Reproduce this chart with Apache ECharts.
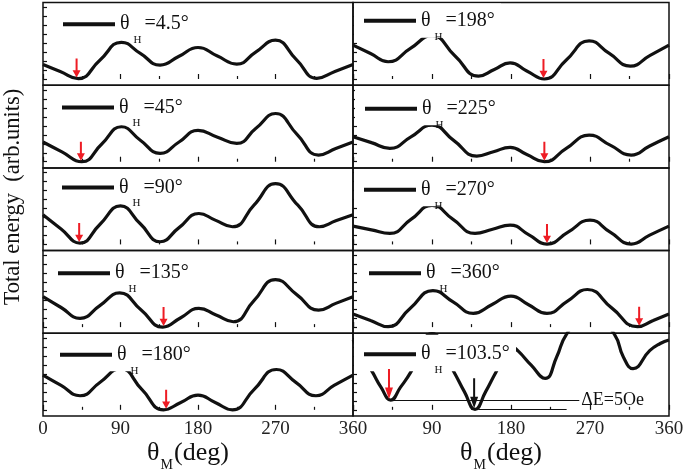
<!DOCTYPE html>
<html><head><meta charset="utf-8">
<script src="https://cdn.jsdelivr.net/npm/echarts@6/dist/echarts.min.js"></script>
<style>html,body{margin:0;padding:0;background:#fff}#c{width:685px;height:469px}</style>
</head><body><div id="c"></div>
<script>
// ---------------- DATA ----------------
const thetaH = ['4.5','45','90','135','180','198','225','270','360','103.5'];
const xTicks = [0, 90, 180, 270, 360];
const yTicks = [0, 1, 2, 3, 4, 5, 6, 7, 8];

const energy_4_5 = [[0,1.62],[20,0.84],[41,0.05],[66,2.1],[91,4.1],[113,2.86],[136,1.56],[158,2.54],[180,3.52],[202,2.6],[225,1.67],[247,3.0],[270,4.33],[294,2.2],[318,0.08],[339,0.85],[360,1.62]];
const energy_45 = [[0,2.2],[22,1.1],[45,0],[68,1.95],[91,3.9],[113,2.4],[136,0.93],[158,2.2],[180,3.5],[202,2.77],[225,2.04],[247,3.7],[270,5.38],[295,3.06],[320,0.74],[340,1.47],[360,2.2]];
const energy_90 = [[0,3.3],[21,1.72],[43,0.15],[66,2.22],[90,4.3],[113,2.3],[136,0.3],[158,1.87],[181,3.45],[200,2.71],[220,1.97],[245,4.38],[270,6.79],[296,4.38],[321,1.97],[340,2.63],[360,3.3]];
const energy_135 = [[0,3.4],[21,2.19],[43,0.98],[66,2.4],[89,3.82],[114,1.91],[139,0],[160,1.05],[181,2.09],[201,1.35],[221,0.6],[245,2.96],[270,5.31],[295,3.6],[320,1.9],[340,2.65],[360,3.4]];
const energy_180 = [[0,3.87],[21,2.72],[43,1.57],[66,3.05],[90,4.6],[115,2.25],[140,0],[160,0.82],[180,1.64],[200,0.82],[220,0],[245,2.25],[271,4.5],[294,3.03],[317,1.57],[338,2.72],[360,3.87]];
const energy_198 = [[0,3.78],[20,2.85],[40,1.93],[65,3.38],[90,4.85],[116,2.6],[143,0.33],[161,1.07],[179,1.81],[198,0.9],[218,0],[243,2.13],[269,4.26],[292,2.85],[316,1.44],[338,2.61],[360,3.78]];
const energy_225 = [[0,2.78],[21,2.13],[42,1.49],[66,2.78],[90,4.08],[115,2.35],[141,0.63],[160,1.11],[179,1.6],[198,0.8],[218,0],[243,1.48],[269,2.97],[293,1.85],[317,0.74],[338,1.76],[360,2.78]];
const energy_270 = [[0,2.04],[21,1.63],[42,1.23],[66,2.79],[90,4.35],[114,2.79],[139,1.23],[159,1.7],[179,2.16],[200,1.1],[221,0.04],[245,1.37],[270,2.71],[293,1.37],[317,0.04],[338,1.04],[360,2.04]];
const energy_360 = [[0,1.46],[20,0.75],[40,0.05],[65,2.08],[91,4.08],[114,2.82],[137,1.53],[158,2.5],[180,3.46],[200,2.5],[221,1.53],[244,2.87],[267,4.2],[295,2.12],[324,0.05],[342,0.75],[360,1.46]];
const energy_103_5 = [[0,7.8],[22,4.23],[32,2.5],[43,1.09],[54,2.5],[66,4.23],[90,8.5],[115,4.23],[127,2.0],[139,0.05],[151,2.0],[163,4.23],[180,7.1],[188,6.57],[203,4.98],[219,3.5],[232,5.9],[243,8.4],[270,11.5],[298,8.4],[308,5.9],[319,4.6],[338,6.6],[350,7.4],[360,7.8]];

// arrows marking the energy minimum (deg, value)
const arrowDeg = [39, 44, 42, 140, 143, 217, 218, 221, 326, 41];
const arrowVal = [0.05, 0, 0.15, 0, 0, 0, 0, 0.04, 0.05, 1.09];
const blackArrow = [138, 0.05];
// Delta E reference lines
const dELine1 = [[43.6, 1.09], [257.8, 1.09]];
const dELine2 = [[142.7, 0.05], [243.4, 0.05]];
const dELabel = 'ΔE=5Oe';

const curves = [energy_4_5, energy_45, energy_90, energy_135, energy_180,
                energy_198, energy_225, energy_270, energy_360, energy_103_5];

// ---------------- LAYOUT / STYLE ----------------
const SERIF = '"Liberation Serif","DejaVu Serif",serif';
const INK = '#111';
const RED = '#ee1c24';
const TOP = 2.5, ROWH = 82.7;
const COLX = [[43, 310], [353, 316]];
const YMIN = -0.69, YMAX = 8.54;
const iconLeft = [63, 62, 62, 58, 60, 364, 365, 364, 369, 364];
const iconCY = [22.7, 106, 186, 271.7, 353.3, 19.3, 107.3, 188.3, 271.7, 352.7];
const boxRight = [190, 188, 181, 192, 192, 501, 502, 500, 507, 516];
const boxBelow = [16.5, 18, 17.5, 18, 18, 18.5, 18, 18, 17, 18.5];
const ARROW = 'path://M3,0L5,0L5,11L8,11L4,18L0,11L3,11Z';
const LEG_OFF = 8.5;  // legend top -> icon centre

const grids = [], xAxes = [], yAxes = [], series = [], legends = [], graphics = [];
for (let i = 0; i < 10; i++) {
  const col = Math.floor(i / 5), row = i % 5;
  const gl = COLX[col][0], gw = COLX[col][1], gt = TOP + ROWH * row;
  grids.push({left: gl, top: gt, width: gw, height: ROWH, show: true,
    borderColor: INK, borderWidth: 1.5, backgroundColor: 'transparent', containLabel: false, outerBoundsMode: 'none'});
  const bottom = row === 4;
  xAxes.push({gridIndex: i, type: 'value', min: xTicks[0], max: xTicks[xTicks.length - 1], interval: 90,
    axisLine: {show: false}, splitLine: {show: false},
    axisTick: {show: true, inside: true, length: 5, lineStyle: {color: INK, width: 1.2}},
    minorTick: {show: true, splitNumber: 2, length: 3, lineStyle: {color: INK, width: 1.2}},
    axisLabel: {show: bottom, fontFamily: SERIF, fontSize: 19, color: '#222', margin: 4,
      showMinLabel: col === 0, showMaxLabel: true},
    name: bottom ? '{m|θ}{s|M}{m|(deg)}' : '',
    nameLocation: 'middle', nameGap: 20,
    nameTextStyle: {padding: [0, 20, 0, 0], rich: {
      m: {fontFamily: SERIF, fontSize: 26, lineHeight: 26, verticalAlign: 'top', color: INK},
      s: {fontFamily: SERIF, fontSize: 14, lineHeight: 14, padding: [18, 1, 0, 1], verticalAlign: 'top', color: INK}}}
  });
  yAxes.push({gridIndex: i, type: 'value', min: YMIN, max: YMAX,
    axisLine: {show: false}, splitLine: {show: false}, axisLabel: {show: false},
    axisTick: {show: true, inside: true, length: 4, customValues: yTicks, lineStyle: {color: INK, width: 1.2}}});
  const name = 'θH=' + thetaH[i] + '°';
  const mpData = [{coord: [arrowDeg[i], arrowVal[i]]}];
  const big = i === 9;
  if (big) mpData.push({coord: blackArrow, itemStyle: {color: INK}});
  const s = {type: 'line', name: name, xAxisIndex: i, yAxisIndex: i, data: curves[i],
    smooth: 0.5, symbol: 'none', color: INK, lineStyle: {width: 3.2, color: INK}, clip: true, silent: true, z: 2,
    markPoint: {symbol: ARROW, symbolSize: big ? [8, 30] : [8, 19], symbolOffset: big ? [0, -16] : [0, -10.5],
      itemStyle: {color: RED}, label: {show: false}, silent: true, data: mpData}};
  if (big) {
    s.markLine = {symbol: 'none', silent: true, lineStyle: {color: INK, width: 1, type: 'solid'},
      label: {show: false},
      data: [
        [{coord: dELine1[0], label: {show: true, position: 'end', distance: 2, formatter: dELabel,
          fontFamily: SERIF, fontSize: 18, color: INK}}, {coord: dELine1[1]}],
        [{coord: dELine2[0]}, {coord: dELine2[1]}]
      ]};
  }
  series.push(s);
  legends.push({data: [name], left: iconLeft[i], top: iconCY[i] - LEG_OFF, padding: 0, icon: 'rect',
    itemWidth: 52, itemHeight: 4, selectedMode: false, orient: 'horizontal',
    itemStyle: {color: INK},
    formatter: () => '{m|θ}{s|H}{m|=' + thetaH[i] + '°}',
    textStyle: {color: INK, rich: {
      m: {fontFamily: SERIF, fontSize: 20, padding: [15, 0, 15, 0], verticalAlign: 'top', color: INK},
      s: {fontFamily: SERIF, fontSize: 11, padding: [35.5, 3, 3.5, 4], verticalAlign: 'top', color: INK}}}
  });
  const bx = Math.max(gl + 1, iconLeft[i] - 10), by = Math.max(gt + 1, iconCY[i] - 18);
  graphics.push({type: 'rect', z: 3, silent: true,
    shape: {x: bx, y: by, width: boxRight[i] - bx, height: iconCY[i] + boxBelow[i] - by},
    style: {fill: '#fff'}});
}
graphics.push({type: 'text', z: 3, silent: true, x: 13, y: 197, rotation: Math.PI / 2,
  style: {text: 'Total energy  (arb.units)', fontFamily: SERIF, fontSize: 22.5, fill: INK,
    align: 'center', verticalAlign: 'middle', textAlign: 'center', textVerticalAlign: 'middle'}});

const chart = echarts.init(document.getElementById('c'), null, {renderer: 'canvas'});
chart.setOption({animation: false, backgroundColor: '#fff',
  grid: grids, xAxis: xAxes, yAxis: yAxes, series: series, legend: legends, graphic: graphics});
</script></body></html>
